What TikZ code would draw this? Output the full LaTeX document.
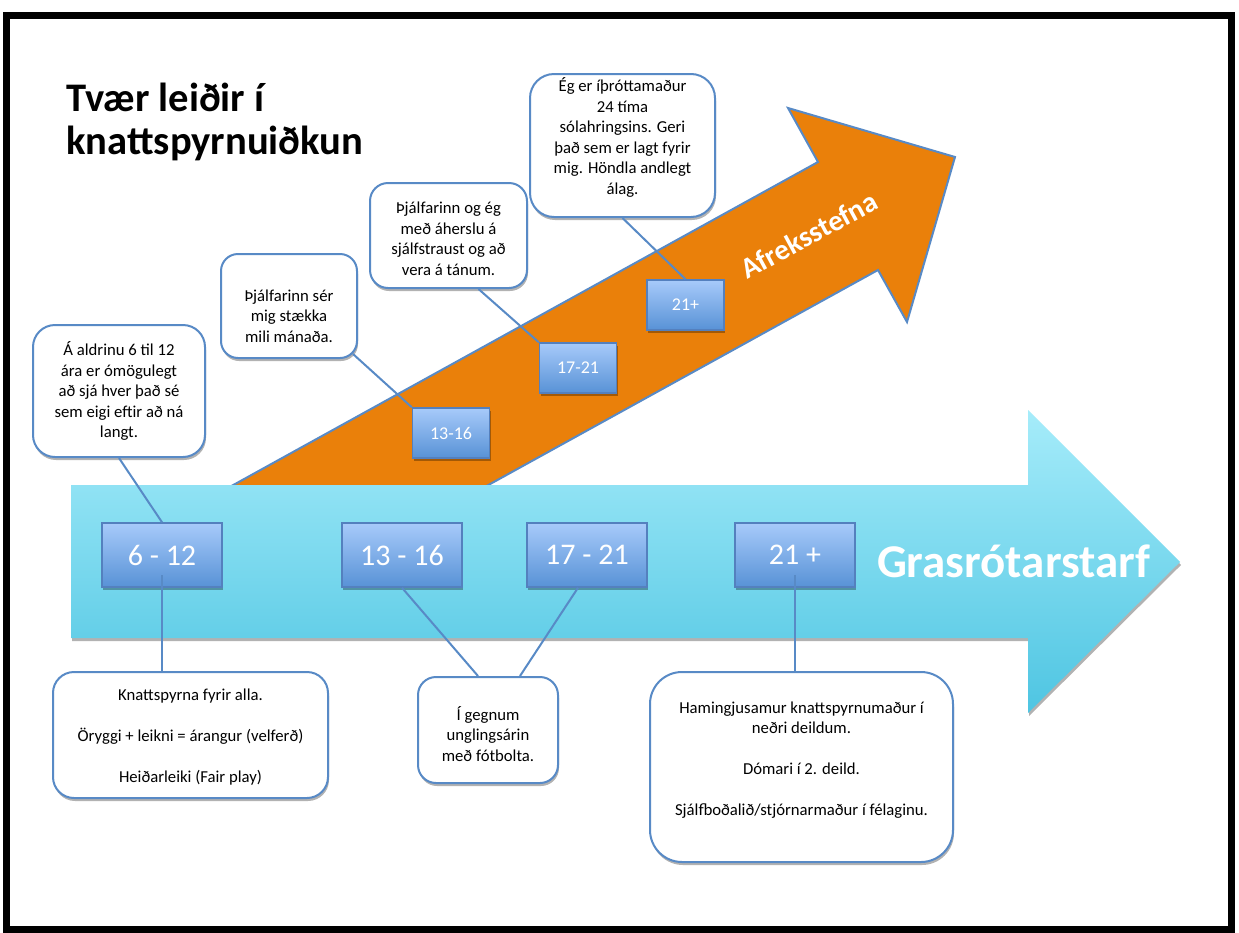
\documentclass[tikz,border=0pt]{standalone}
\usepackage{fontspec}
\setmainfont{Carlito}
\usetikzlibrary{shadows,calc}
\definecolor{orangearrow}{RGB}{234,128,10}
\definecolor{edgeblue}{RGB}{88,138,198}
\definecolor{cyantop}{RGB}{166,236,250}
\definecolor{cyanbot}{RGB}{78,197,226}
\definecolor{agetop}{RGB}{167,202,250}
\definecolor{agebot}{RGB}{88,146,214}
\definecolor{ageedge}{RGB}{84,128,190}
\newcommand{\fsz}[2]{\fontsize{#1}{#2}\selectfont}
\begin{document}
\begin{tikzpicture}[x=1pt,y=-1pt,
  softshadow/.style={drop shadow={shadow xshift=1pt,shadow yshift=-3pt,opacity=0.3,fill=black}},
  callout/.style={draw=edgeblue, line width=2pt, fill=white, inner sep=0pt, softshadow},
  calltext/.style={align=center, inner sep=0pt, font=\fsz{16.7}{20.5}},
  agebig/.style={draw=ageedge, line width=1.5pt, top color=agetop, bottom color=agebot, text=white, minimum width=120pt, minimum height=64pt, inner sep=0pt, font=\fsz{30}{36}, softshadow},
  agesmall/.style={draw=ageedge, line width=1.5pt, top color=agetop, bottom color=agebot, text=white, minimum width=77pt, minimum height=50pt, inner sep=0pt, font=\fsz{18}{22}, softshadow},
  link/.style={draw=edgeblue, line width=2pt},
]
\fill[white] (0,0) rectangle (1239,932);
\useasboundingbox (0,0) rectangle (1239,932);

% orange arrow
\filldraw[fill=orangearrow, draw=edgeblue, line width=2pt, line join=miter]
  (150,531) -- (818,162) -- (788,108) -- (955,157) -- (907,322) -- (878,270) -- (405,531) -- cycle;
\node[rotate=28.5, text=white, font=\bfseries\fsz{29}{34}] (af) at (809,235) {Afreksstefna};

% blue arrow
\path[top color=cyantop, bottom color=cyanbot, softshadow]
  (71,485) -- (1028,485) -- (1028,410) -- (1180,562) -- (1028,713) -- (1028,638) -- (71,638) -- cycle;
\node[anchor=base, text=white, font=\bfseries\fsz{47}{56}] (gr) at (1013.5,577) {Grasrótarstarf};

% title
\node[anchor=north west, inner sep=0pt, align=left, font=\bfseries\fsz{40.6}{43}] (title) at (66,83) {Tvær leiðir í\\knattspyrnuiðkun};

% age boxes
\node[agebig] (b612) at (162,555) {6 - 12};
\node[agebig] (b1316) at (402,555) {13 - 16};
\node[agebig] (b1721) at (587,555) {17 - 21};
\node[agebig] (b21) at (795,555) {21 +};
\node[agesmall] (s1316) at (451,433) {13-16};
\node[agesmall] (s1721) at (578,368) {17-21};
\node[agesmall] (s21) at (685.5,305) {21+};

% callouts
\node[callout, rounded corners=24pt, minimum width=185pt, minimum height=143pt] (ce) at (622.5,145.5) {};
\node[calltext] (cet) at (622.5,137.5) {Ég er íþróttamaður\\24 tíma\\sólahringsins. Geri\\það sem er lagt fyrir\\mig. Höndla andlegt\\álag.};
\node[callout, rounded corners=18pt, minimum width=157pt, minimum height=105pt] (cj) at (448.5,235.5) {};
\node[calltext] (cjt) at (448.5,239) {Þjálfarinn og ég\\með áherslu á\\sjálfstraust og að\\vera á tánum.};
\node[callout, rounded corners=17pt, minimum width=136pt, minimum height=104pt] (cs) at (289,306) {};
\node[calltext] (cst) at (289,316) {Þjálfarinn sér\\mig stækka\\mili mánaða.};
\node[callout, rounded corners=22pt, minimum width=172pt, minimum height=132pt] (ca) at (119,391) {};
\node[calltext] (cat) at (119,391) {Á aldrinu 6 til 12\\ára er ómögulegt\\að sjá hver það sé\\sem eigi eftir að ná\\langt.};
\node[callout, rounded corners=21pt, minimum width=275pt, minimum height=126pt] (ck) at (190.5,735) {};
\node[calltext] (ckt) at (190.5,737.5) {Knattspyrna fyrir alla.\\[20.5pt]Öryggi + leikni = árangur (velferð)\\[20.5pt]Heiðarleiki (Fair play)};
\node[callout, rounded corners=18pt, minimum width=140pt, minimum height=106pt] (cg) at (488,730) {};
\node[calltext] (cgt) at (488,734) {Í gegnum\\unglingsárin\\með fótbolta.};
\node[callout, rounded corners=32pt, minimum width=303pt, minimum height=190pt] (ch) at (801.5,767) {};
\node[calltext] (cht) at (801.5,760) {Hamingjusamur knattspyrnumaður í\\neðri deildum.\\[20.5pt]Dómari í 2. deild.\\[20.5pt]Sjálfboðalið/stjórnarmaður í félaginu.};

% connectors
\draw[link] (ca.south) -- (b612.north);
\draw[link] ([yshift=-20pt]b612.center) -- (ck.north -| b612.center);
\draw[link] (b1316.south) -- ([xshift=-10pt]cg.north);
\draw[link] ([xshift=-9pt]b1721.south) -- ([xshift=32pt]cg.north);
\draw[link] ([yshift=-20pt]b21.center) -- (ch.north -| b21.center);
\draw[link] ($(cs.south east)+(-5,-5)$) -- (s1316.north west);
\draw[link] ([xshift=30pt]cj.south) -- (s1721.north west);
\draw[link] (ce.south) -- (s21.north);

% frame
\draw[line width=7pt] (6,15.5) rectangle (1231.5,929);
\end{tikzpicture}
\end{document}
